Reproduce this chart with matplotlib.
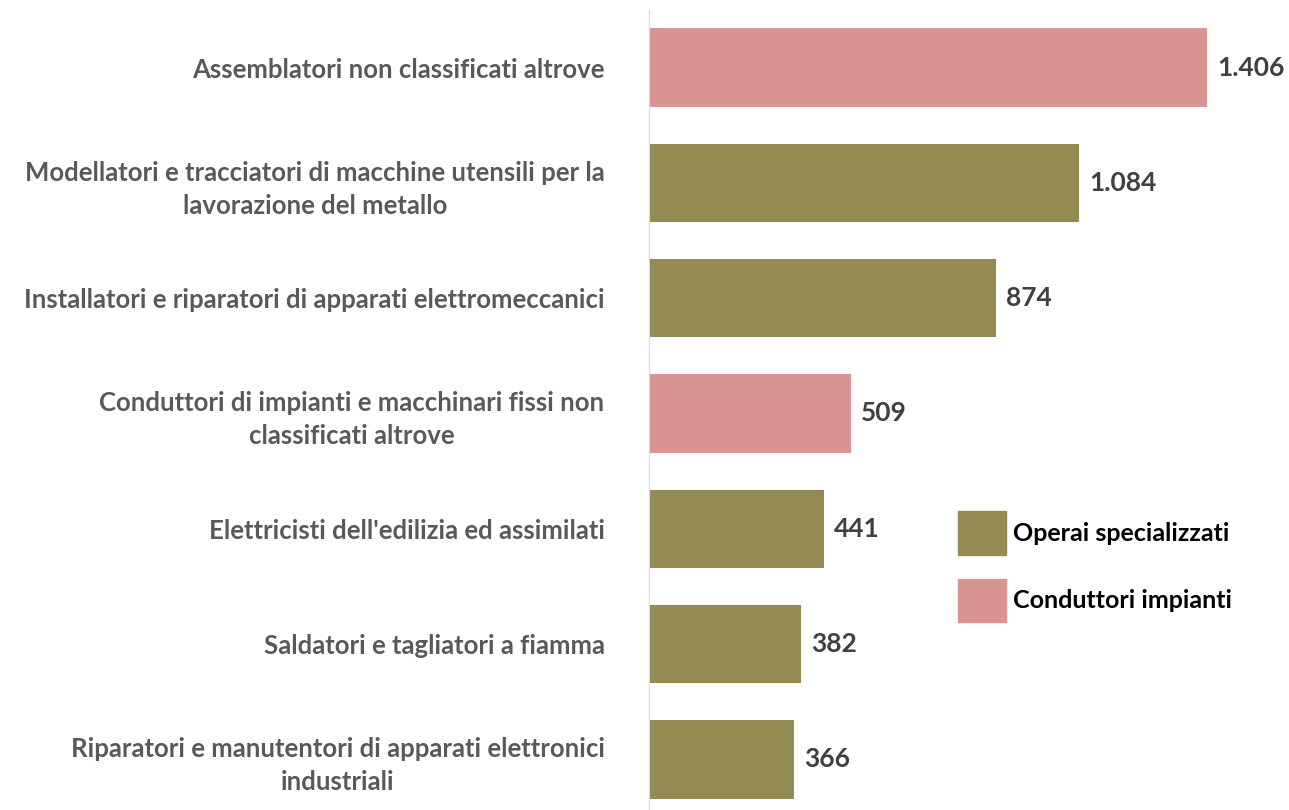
import matplotlib.pyplot as plt
from matplotlib.patches import Patch

# Data
categories = [
    "Assemblatori non classificati altrove",
    "Modellatori e tracciatori di macchine utensili per la\nlavorazione del metallo",
    "Installatori e riparatori di apparati elettromeccanici",
    "Conduttori di impianti e macchinari fissi non\nclassificati altrove",
    "Elettricisti dell'edilizia ed assimilati",
    "Saldatori e tagliatori a fiamma",
    "Riparatori e manutentori di apparati elettronici\nindustriali",
]
values = [1406, 1084, 874, 509, 441, 382, 366]
groups = ["Conduttori impianti", "Operai specializzati", "Operai specializzati",
          "Conduttori impianti", "Operai specializzati", "Operai specializzati",
          "Operai specializzati"]
group_colors = {"Operai specializzati": "#948a54", "Conduttori impianti": "#d99594"}

plt.rcParams['font.family'] = ['Lato', 'DejaVu Sans']

fig = plt.figure(figsize=(12.89, 8.10), dpi=100)
ax = fig.add_axes([0.5035, -0.0086, 0.4965, 0.9963])

y = list(range(len(values)))
colors = [group_colors[g] for g in groups]
ax.barh(y, values, height=0.68, color=colors)
ax.set_ylim(len(values) - 0.5, -0.5)
ax.set_xlim(0, 1612)

for yi, v in zip(y, values):
    ax.text(v + 25, yi, f"{v:,}".replace(",", "."), va="center", ha="left",
            fontsize=19, fontweight="bold", color="#404040")

ax.set_yticks(y)
ax.set_yticklabels(categories, fontsize=18.5, fontweight="bold", color="#595959",
                   linespacing=1.45, multialignment="center")
ax.tick_params(axis="y", length=0, pad=32)
ax.set_xticks([])
for s in ["top", "right", "bottom"]:
    ax.spines[s].set_visible(False)
ax.spines["left"].set_color("#d9d9d9")

handles = [Patch(color=group_colors["Operai specializzati"], label="Operai specializzati"),
           Patch(color=group_colors["Conduttori impianti"], label="Conduttori impianti")]
ax.legend(handles=handles, loc="center left", bbox_to_anchor=(0.448, 0.31),
          frameon=False, handlelength=1.9, handleheight=2.3, labelspacing=0.95,
          handletextpad=0.3, prop={"size": 18, "weight": "bold"})

fig.savefig("out.png", dpi=100)
